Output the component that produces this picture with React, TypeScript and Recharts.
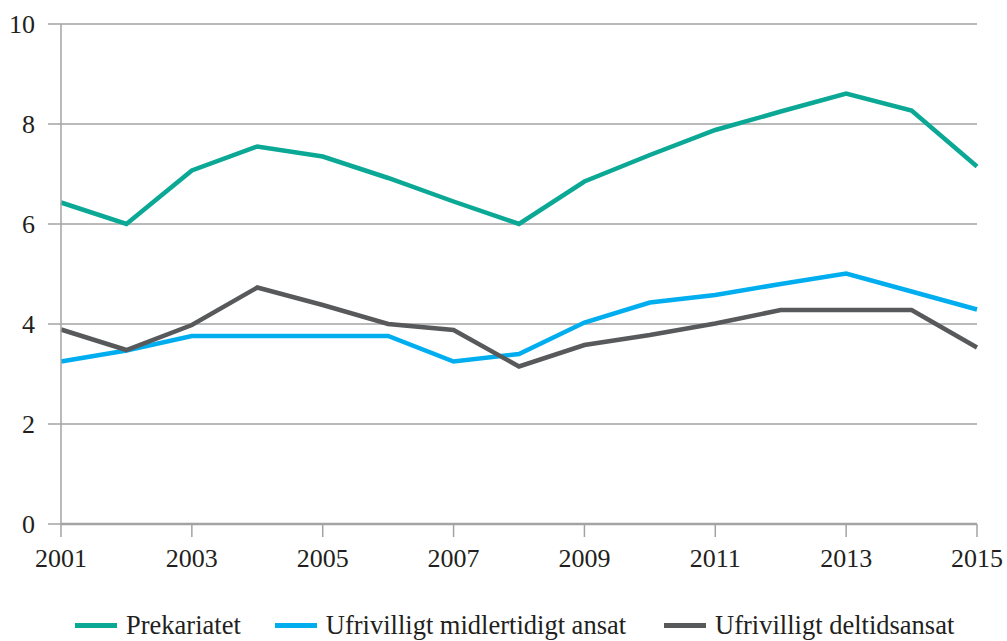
import React from 'react';
import { LineChart, Line, XAxis, YAxis, CartesianGrid, Legend } from 'recharts';

const years = ['2001', '2002', '2003', '2004', '2005', '2006', '2007', '2008', '2009', '2010', '2011', '2012', '2013', '2014', '2015'];
const prekariatet = [6.43, 6.0, 7.07, 7.55, 7.35, 6.92, 6.45, 6.0, 6.85, 7.38, 7.88, 8.25, 8.61, 8.27, 7.15];
const midlertidigt = [3.25, 3.47, 3.76, 3.76, 3.76, 3.76, 3.25, 3.4, 4.03, 4.43, 4.58, 4.8, 5.01, 4.65, 4.29];
const deltid = [3.89, 3.48, 3.98, 4.73, 4.38, 4.0, 3.88, 3.15, 3.58, 3.78, 4.01, 4.28, 4.28, 4.28, 3.53];
const yTicks = [0, 2, 4, 6, 8, 10];
const seriesKeys = ['prekariatet', 'midlertidigt', 'deltid'];
const seriesNames = ['Prekariatet', 'Ufrivilligt midlertidigt ansat', 'Ufrivilligt deltidsansat'];
const seriesColors = ['#0aa895', '#00aeef', '#58595b'];

const data = years.map((y, i) => ({
  year: y,
  prekariatet: prekariatet[i],
  midlertidigt: midlertidigt[i],
  deltid: deltid[i],
}));

const FONT = 'Liberation Serif';
const GRID = '#a3a3a3';
const TEXT = '#231f20';

const LegendContent = () => (
  <div style={{ display: 'flex', alignItems: 'center', fontFamily: FONT, fontSize: 26.5, lineHeight: '30px', color: TEXT, whiteSpace: 'nowrap' }}>
    {seriesNames.map((n, i) => (
      <div key={n} style={{ display: 'flex', alignItems: 'center', marginRight: i === 0 ? 34 : 38 }}>
        <span style={{ display: 'inline-block', width: 42, height: 5, background: seriesColors[i], marginRight: 9 }} />
        <span style={{ fontFamily: FONT }}>{n}</span>
      </div>
    ))}
  </div>
);

export default function App() {
  return (
    <div style={{ position: 'absolute', left: 0, top: 0, width: 1007, height: 641, background: '#fff', overflow: 'hidden', fontFamily: FONT }}>
      <LineChart width={1007} height={641} data={data} margin={{ top: 24, right: 30, left: 0, bottom: 27 }} style={{ fontFamily: FONT }}>
        <CartesianGrid horizontal vertical={false} stroke={GRID} strokeWidth={1.5} />
        <XAxis
          dataKey="year"
          interval={1}
          height={60}
          axisLine={{ stroke: GRID, strokeWidth: 2.5 }}
          tickLine={{ stroke: GRID, strokeWidth: 1.5 }}
          tickSize={13}
          tickMargin={12}
          tick={{ fill: TEXT, fontSize: 26, fontFamily: FONT }}
        />
        <YAxis
          domain={[0, 10]}
          ticks={yTicks}
          width={61}
          axisLine={{ stroke: GRID, strokeWidth: 1.5 }}
          tickLine={{ stroke: GRID, strokeWidth: 1.5 }}
          tickSize={13}
          tickMargin={13}
          tick={{ fill: TEXT, fontSize: 26, fontFamily: FONT }}
        />
        <Legend
          verticalAlign="bottom"
          content={<LegendContent />}
          wrapperStyle={{ position: 'absolute', left: 75, top: 610, width: 'auto', height: 30, bottom: 'auto' }}
        />
        {seriesKeys.map((k, i) => (
          <Line
            key={k}
            type="linear"
            dataKey={k}
            name={seriesNames[i]}
            stroke={seriesColors[i]}
            strokeWidth={4.5}
            dot={false}
            activeDot={false}
            isAnimationActive={false}
          />
        ))}
      </LineChart>
    </div>
  );
}
